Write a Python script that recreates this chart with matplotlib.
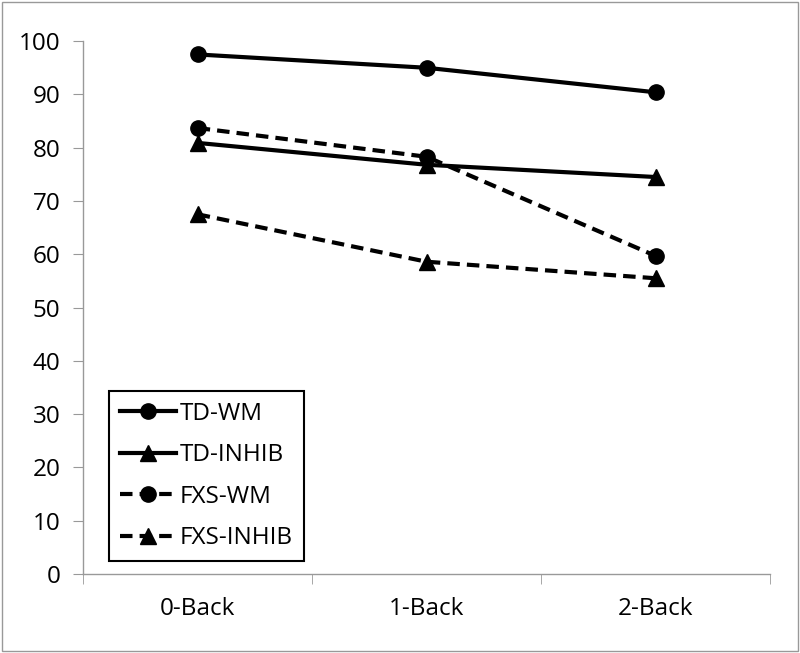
import numpy as np
import matplotlib.pyplot as plt
from matplotlib.patches import Rectangle

plt.rcParams['font.family'] = ['Open Sans', 'DejaVu Sans']

conditions = ["0-Back", "1-Back", "2-Back"]
td_wm = [97.5, 95.0, 90.4]
td_inhib = [80.9, 76.8, 74.5]
fxs_wm = [83.7, 78.3, 59.7]
fxs_inhib = [67.5, 58.6, 55.5]

fig = plt.figure(figsize=(8, 6.53), dpi=100)
ax = fig.add_axes([0.104, 0.121, 0.8585, 0.816])

x = np.arange(len(conditions))
lw = 3
ms = 11
ax.plot(x, td_wm, '-', marker='o', color='black', lw=lw, ms=ms, label="TD-WM")
ax.plot(x, td_inhib, '-', marker='^', color='black', lw=lw, ms=ms, label="TD-INHIB")
ax.plot(x, fxs_wm, '--', marker='o', color='black', lw=lw, ms=ms, dashes=(3, 1.7), label="FXS-WM")
ax.plot(x, fxs_inhib, '--', marker='^', color='black', lw=lw, ms=ms, dashes=(3, 1.7), label="FXS-INHIB")

ax.set_xlim(-0.5, 2.5)
ax.set_ylim(0, 100)
ax.set_yticks(np.arange(0, 101, 10))
ax.set_xticks(x)
ax.set_xticklabels(conditions)
ax.set_xticks([-0.5, 0.5, 1.5, 2.5], minor=True)
ax.tick_params(axis='x', which='major', length=0, labelsize=17.5, pad=16.5)
ax.tick_params(axis='x', which='minor', length=7, color='#999999')
ax.tick_params(axis='y', length=7, color='#999999', labelsize=17.5, pad=9.5)

for s in ['top', 'right']:
    ax.spines[s].set_visible(False)
for s in ['left', 'bottom']:
    ax.spines[s].set_color('#999999')
    ax.spines[s].set_linewidth(1)

leg = ax.legend(loc='lower left', bbox_to_anchor=(0.0378, 0.0244), fontsize=17.5,
                frameon=True, fancybox=False, framealpha=1, handlelength=2.3, handletextpad=0.15,
                labelspacing=0.72, borderpad=0.45, borderaxespad=0, edgecolor='black')
leg.get_frame().set_linewidth(1.5)

# outer chart border
fig.patches.append(Rectangle((0.003, 0.003), 0.994, 0.994, transform=fig.transFigure,
                             fill=False, edgecolor='#999999', lw=1))

fig.savefig("out.png", dpi=100)
